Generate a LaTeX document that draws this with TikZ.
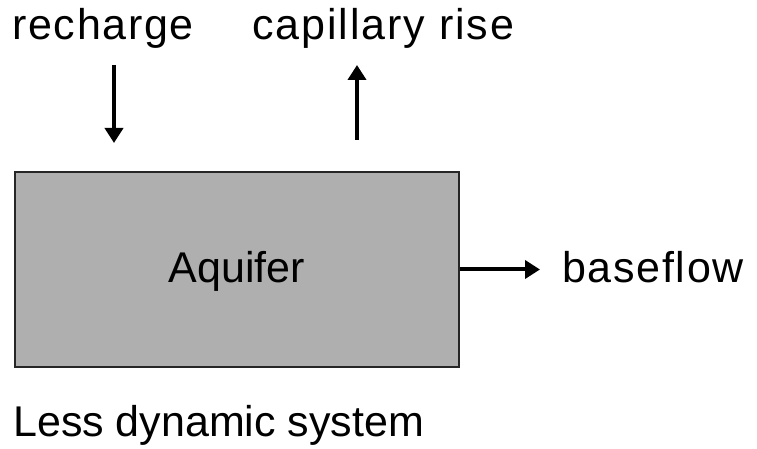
\documentclass[tikz,border=0pt]{standalone}
\usepackage{fontspec}
\setmainfont{Liberation Sans}
\usetikzlibrary{arrows.meta}
\begin{document}
\begin{tikzpicture}[x=1pt,y=1pt,
  lbl/.style={inner sep=0pt,font=\fontsize{43}{50}\selectfont},
  flow/.style={line width=4pt,-{Triangle[length=15pt,width=18pt]}},
  boxstyle/.style={draw=black!85,line width=1.2pt,fill={rgb,255:red,175;green,175;blue,175},minimum width=444pt,minimum height=195pt,inner sep=0pt}]
\useasboundingbox (0,0) rectangle (757,449);
\node[boxstyle] (aq) at (237,179.5) {};
\node[lbl,anchor=base] (aqt) at (237,166) {Aquifer};
\node[lbl,anchor=base west] (rc) at (12,409) {\addfontfeature{LetterSpace=4}recharge};
\node[lbl,anchor=base west] (cr) at (252,409) {\addfontfeature{LetterSpace=4.5}capillary rise};
\node[lbl,anchor=base west] (bf) at (562,166) {\addfontfeature{LetterSpace=4}baseflow};
\node[lbl,anchor=base west] (ld) at (13,12) {Less dynamic system};
\coordinate (r1) at (114,384);
\coordinate (r2) at (114,306);
\coordinate (c1) at (357,309);
\coordinate (c2) at (357,384);
\coordinate (b2) at (540,179.5);
\draw[flow] (r1) -- (r2);
\draw[flow] (c1) -- (c2);
\draw[flow] (aq.east) -- (b2);
\end{tikzpicture}
\end{document}
